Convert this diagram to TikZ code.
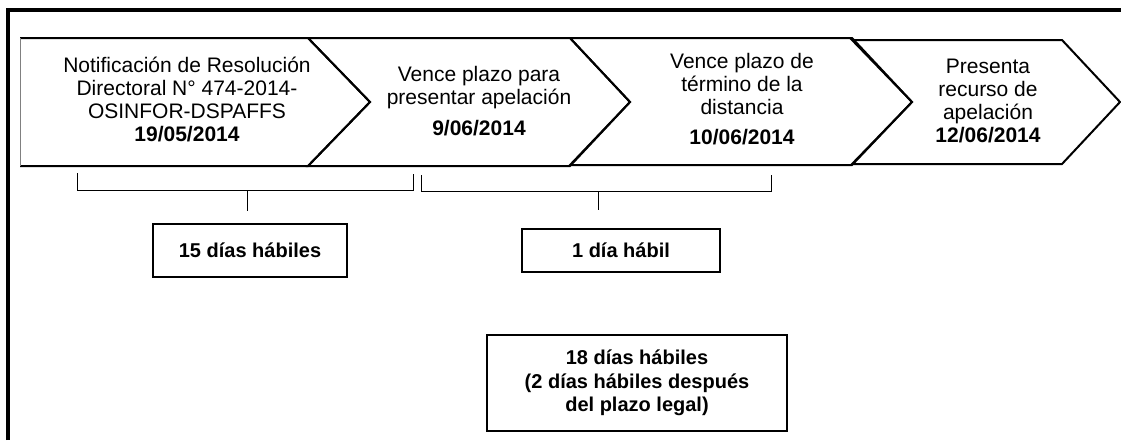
\documentclass[tikz,border=0pt]{standalone}
\usepackage{fontspec}
\setmainfont{Liberation Sans}
\begin{document}
\begin{tikzpicture}[x=1pt,y=-1pt,
    chev/.style={line width=2pt,line join=miter},
    evtxt/.style={align=center,inner sep=0pt,font=\fontsize{21}{23}\selectfont},
    daybox/.style={draw,line width=1.3pt,align=center,inner sep=0pt,
      font=\fontsize{20}{23.5}\selectfont\bfseries},
    brace/.style={line width=1pt}]
  \useasboundingbox (0,0) rectangle (1121,440);
  \draw[line width=3.2pt] (8,440) -- (8,10) -- (1121,10);
  % chevrons
  \draw[chev] (20,38) -- (308,38) -- (370,102) -- (308,166) -- (20,166);
  \draw[line width=0.8pt,gray] (20,166) -- (20,38);
  \draw[chev] (308,38) -- (570,38) -- (630,102) -- (570,166) -- (308,166) -- (370,102) -- cycle;
  \draw[chev] (570,38) -- (852,38) -- (912,102) -- (852,165) -- (570,165) -- (630,102) -- cycle;
  \draw[chev] (852,40) -- (1062,40) -- (1120,102) -- (1062,164) -- (852,164) -- (912,102) -- cycle;
  \draw
    (187,99) node[evtxt] (ev1) {Notificación de Resolución\\Directoral N° 474-2014-\\OSINFOR-DSPAFFS\\\textbf{19/05/2014}}
    (479,101) node[evtxt] (ev2) {Vence plazo para\\presentar apelación\\[8pt]\textbf{9/06/2014}}
    (742,99) node[evtxt] (ev3) {Vence plazo de\\término de la\\distancia\\[7pt]\textbf{10/06/2014}}
    (988,101) node[evtxt] (ev4) {Presenta\\recurso de\\apelación\\\textbf{12/06/2014}};
  % brackets
  \begin{scope}[brace]
    \draw (77,173) |- (413,190) -- (413,174);
    \draw (247,190) -- (247,211);
    \draw (421,175) |- (771,191) -- (771,175);
    \draw (598,191) -- (598,210);
  \end{scope}
  \draw
    (250,250.5) node[daybox,minimum width=194pt,minimum height=53pt] (d15) {15 días hábiles}
    (621,250.5) node[daybox,minimum width=198pt,minimum height=43pt] (d1) {1 día hábil}
    (637,383) node[daybox,minimum width=300pt,minimum height=96pt] (d18) {18 días hábiles\\(2 días hábiles después\\del plazo legal)};
\end{tikzpicture}
\end{document}
